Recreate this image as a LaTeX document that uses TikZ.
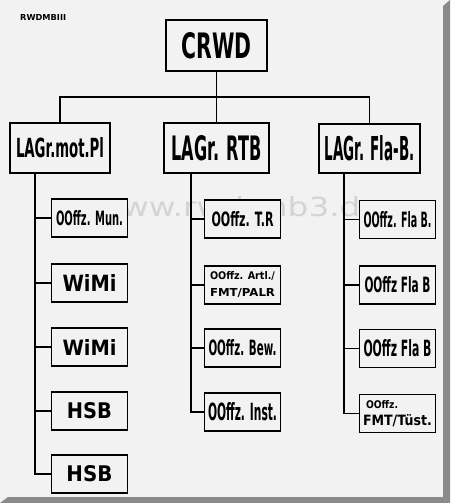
\documentclass[tikz,border=0pt]{standalone}
\usepackage{fontspec}
\setmainfont{DejaVu Sans}
\usepackage{graphicx}
\newcommand{\rz}[3]{\resizebox{#1pt}{#2pt}{#3}}
\definecolor{paper}{HTML}{F2F2F2}
\definecolor{framegray}{HTML}{8A8A8A}
\definecolor{wmark}{HTML}{D4D4D4}
\tikzset{
  box/.style={draw=black, line width=1.3pt, fill=paper, inner sep=0pt,
    minimum width=76pt, minimum height=38pt, font=\bfseries},
  headbox/.style={box, minimum width=100pt, minimum height=50pt},
  topbox/.style={box, line width=2pt, minimum width=101pt, minimum height=51pt},
  link/.style={line width=1.3pt}
}
\begin{document}
\begin{tikzpicture}[x=1pt,y=-1pt]
\fill[paper] (0,0) rectangle (450,503);
\useasboundingbox (0,0) rectangle (450,503);
\fill[framegray] (443,6) -- (450,0) -- (450,503) -- (443,497) -- cycle;
\fill[framegray] (8,497) -- (443,497) -- (450,503) -- (0,503) -- cycle;

\node[anchor=west, font=\bfseries, inner sep=0pt] (tag) at (20,18) {\rz{46}{6}{RWDMBIII}};
\node[text=wmark, inner sep=0pt] (wm) at (238,207) {\rz{285}{20}{www.rwd-mb3.de}};

% top
\node[topbox] (crwd) at (216.5,45.5) {\rz{70}{26}{CRWD}};

% heads
\node[headbox] (lag1) at (60,148) {\rz{88}{20}{LAGr.mot.Pl}};
\node[headbox, minimum width=105pt] (lag2) at (216.5,148) {\rz{90}{25}{LAGr. RTB}};
\node[headbox, minimum width=101pt, minimum height=49pt] (lag3) at (369.5,148.5) {\rz{90}{25}{LAGr. Fla-B.}};

\coordinate (bar) at (216.5,97);
\draw[link] (crwd.south) -- (lag2.north);
\draw[link] (lag1.north) |- (bar) -| (lag3.north);

% left column
\node[box] (mun)   at (89.5,218) {\rz{67}{15}{OOffz. Mun.}};
\node[box] (wimi1) at (89.5,283) {\rz{54}{17}{WiMi}};
\node[box] (wimi2) at (89.5,347) {\rz{54}{16}{WiMi}};
\node[box] (hsb1)  at (89.5,411) {\rz{45}{16}{HSB}};
\node[box] (hsb2)  at (89.5,474) {\rz{46}{16}{HSB}};

% middle column
\node[box] (tr)   at (242.5,219) {\rz{62}{15}{OOffz. T.R}};
\node[box, align=center, font=\bfseries\fontsize{10}{17}\selectfont] (artl) at (242.5,285)
  {\rz{65}{8}{OOffz. Artl./}\\\rz{65}{8}{FMT/PALR}};
\node[box] (bew)  at (242.5,348) {\rz{68}{16}{OOffz. Bew.}};
\node[box] (inst) at (242.5,412) {\rz{69}{18}{OOffz. Inst.}};

% right column
\node[box] (fla1) at (397.5,219.5) {\rz{68}{16}{OOffz. Fla B.}};
\node[box] (fla2) at (397.5,285)   {\rz{66}{16}{OOffz Fla B}};
\node[box] (fla3) at (397.5,348.5) {\rz{68}{17}{OOffz Fla B}};
\node[box, align=left, font=\bfseries\fontsize{10}{17}\selectfont] (fmt) at (397.5,413.5)
  {\hspace*{3pt}\rz{32}{8}{OOffz.}\\\rz{69}{11}{FMT/Tüst.}};

% spines
\coordinate (s1) at ([xshift=-25pt]lag1.south);
\coordinate (s2) at ([xshift=-25.5pt]lag2.south);
\coordinate (s3) at ([xshift=-25.5pt]lag3.south);

\draw[link] (s1) |- (hsb2.west);
\foreach \n in {mun,wimi1,wimi2,hsb1} \draw[link] (s1 |- \n.west) -- (\n.west);

\draw[link] (s2) |- (inst.west);
\foreach \n in {tr,artl,bew} \draw[link] (s2 |- \n.west) -- (\n.west);

\draw[link] (s3) |- (fmt.west);
\foreach \n in {fla1,fla2,fla3} \draw[link] (s3 |- \n.west) -- (\n.west);
\end{tikzpicture}
\end{document}
